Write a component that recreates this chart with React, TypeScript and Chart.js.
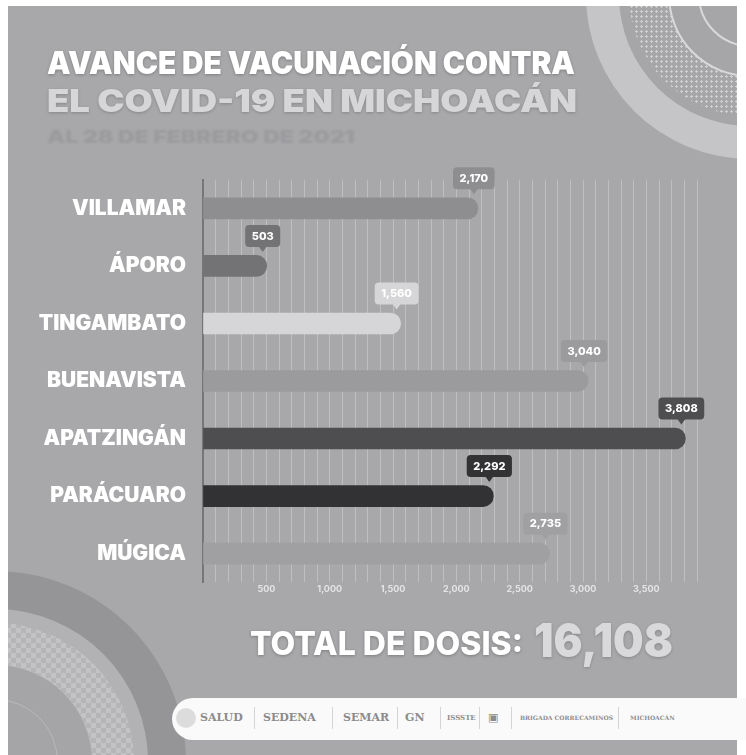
import React, { useEffect, useRef } from "react";
import { Chart, registerables } from "chart.js";

Chart.register(...registerables);

const categories = ["VILLAMAR", "ÁPORO", "TINGAMBATO", "BUENAVISTA", "APATZINGÁN", "PARÁCUARO", "MÚGICA"];
const doses = [2170, 503, 1560, 3040, 3808, 2292, 2735];
const barColors = ["#8e8e91", "#737376", "#d6d6d8", "#9b9b9e", "#4e4e50", "#323234", "#a0a0a3"];
const xMax = 3900;
const gridStep = 100;
const labelStep = 500;
const titleLine1 = "AVANCE DE VACUNACIÓN CONTRA";
const titleLine2 = "EL COVID-19 EN MICHOACÁN";
const titleLine3 = "AL 28 DE FEBRERO DE 2021";
const totalLabel = "TOTAL DE DOSIS:";
const totalValue = "16,108";
const logos = ["SALUD", "SEDENA", "SEMAR", "GN", "ISSSTE", "▣", "BRIGADA CORRECAMINOS", "MICHOACÁN"];

const BG = "#a8a8ab";
const FONT = "Inter, 'Open Sans', 'DejaVu Sans', sans-serif";

const valueLabels = {
  id: "valueLabels",
  afterDatasetsDraw(chart: any) {
    const ctx = chart.ctx;
    const meta = chart.getDatasetMeta(0);
    ctx.save();
    ctx.font = `800 11px ${FONT}`;
    ctx.textAlign = "center";
    ctx.textBaseline = "middle";
    meta.data.forEach((el: any, i: number) => {
      const v = doses[i];
      const txt = v.toLocaleString("en-US");
      const w = ctx.measureText(txt).width + 13;
      const h = 22;
      const cx = el.x - 4;
      const bottom = el.y - 19;
      const top = bottom - h;
      ctx.fillStyle = barColors[i];
      ctx.beginPath();
      (ctx as any).roundRect(cx - w / 2, top, w, h, 4);
      ctx.fill();
      ctx.beginPath();
      ctx.moveTo(cx - 4, bottom - 0.5);
      ctx.lineTo(cx + 4, bottom - 0.5);
      ctx.lineTo(cx, bottom + 5);
      ctx.closePath();
      ctx.fill();
      ctx.fillStyle = "#ffffff";
      ctx.fillText(txt, cx, top + h / 2 + 0.5);
    });
    ctx.restore();
  },
};

function ChartCanvas() {
  const ref = useRef<HTMLCanvasElement | null>(null);
  useEffect(() => {
    if (!ref.current) return;
    const chart = new Chart(ref.current, {
      type: "bar",
      data: {
        labels: categories,
        datasets: [
          {
            data: doses,
            backgroundColor: barColors,
            borderRadius: 11,
            borderSkipped: "start",
            barThickness: 21,
          },
        ],
      },
      options: {
        indexAxis: "y",
        animation: false,
        responsive: false,
        maintainAspectRatio: false,
        layout: { padding: { top: 18.5, right: 49, bottom: 0, left: 0 } },
        plugins: { legend: { display: false }, tooltip: { enabled: false } },
        scales: {
          x: {
            min: 0,
            max: xMax,
            border: { display: false },
            grid: { color: "#bfbfc2", lineWidth: 1, drawTicks: false },
            ticks: {
              stepSize: gridStep,
              autoSkip: false,
              maxRotation: 0,
              padding: 1,
              color: "#e4e4e6",
              font: { family: FONT, size: 9, weight: "bold" },
              callback: (v: any) => (v > 0 && v % labelStep === 0 ? Number(v).toLocaleString("en-US") : ""),
            },
            afterFit: (s: any) => {
              s.height = 22;
            },
          },
          y: {
            border: { display: true, color: "#76767a", width: 2 },
            grid: { display: false, drawTicks: false },
            ticks: {
              color: "#ffffff",
              padding: 17,
              font: { family: FONT, size: 21, weight: "900" },
            },
            afterFit: (s: any) => {
              s.width = 203;
            },
          },
        },
      },
      plugins: [valueLabels],
    });
    return () => chart.destroy();
  }, []);
  return (
    <canvas
      ref={ref}
      width={746}
      height={462}
      style={{ position: "absolute", left: 0, top: 150, width: 746, height: 462 }}
    />
  );
}

function Circle(props: { cx: number; cy: number; r: number; style?: React.CSSProperties }) {
  const { cx, cy, r, style } = props;
  return (
    <div
      style={{
        position: "absolute",
        left: cx - r,
        top: cy - r,
        width: 2 * r,
        height: 2 * r,
        borderRadius: "50%",
        boxSizing: "border-box",
        ...style,
      }}
    />
  );
}

export default function App() {
  const px = 8;
  const py = 6;
  const tr = { x: 750 - px, y: -5 - py };
  const bl = { x: -5 - px, y: 762 - py };
  const logoPos = [200, 263, 343, 405, 447, 488, 520, 630];
  const sepPos = [254, 332, 397, 440, 479, 511, 618];
  return (
    <div style={{ position: "absolute", left: 0, top: 0, width: 746, height: 755, background: "#ffffff", overflow: "hidden" }}>
      <div style={{ position: "absolute", left: px, top: py, width: 729, height: 755 - py, background: BG, overflow: "hidden" }}>
        <Circle cx={tr.x} cy={tr.y} r={164} style={{ background: "#c5c5c7" }} />
        <Circle cx={tr.x} cy={tr.y} r={131} style={{ background: "#a6a6a9" }} />
        <Circle
          cx={tr.x}
          cy={tr.y}
          r={121}
          style={{
            backgroundColor: "#a6a6a9",
            backgroundImage: "radial-gradient(circle, #cfcfd1 1px, transparent 1.4px)",
            backgroundSize: "5px 5px",
          }}
        />
        <Circle cx={tr.x} cy={tr.y} r={82} style={{ background: "#a6a6a9", border: "2px solid #d9d9db" }} />
        <Circle cx={tr.x} cy={tr.y} r={52} style={{ border: "2px solid #d9d9db" }} />
        <Circle cx={bl.x} cy={bl.y} r={191} style={{ background: "#959598" }} />
        <Circle cx={bl.x} cy={bl.y} r={153} style={{ background: "#b2b2b4" }} />
        <Circle
          cx={bl.x}
          cy={bl.y}
          r={139}
          style={{
            backgroundColor: "#b7b7b9",
            backgroundImage: "repeating-conic-gradient(#c3c3c5 0 25%, #b5b5b7 0 50%)",
            backgroundSize: "10px 10px",
          }}
        />
        <Circle cx={bl.x} cy={bl.y} r={98} style={{ background: "#a5a5a8", border: "1.5px solid #bbbbbd" }} />
        <Circle cx={bl.x} cy={bl.y} r={63} style={{ border: "1.5px solid #b9b9bb" }} />
      </div>

      <svg width={746} height={150} style={{ position: "absolute", left: 0, top: 0 }}>
        <text
          x={47}
          y={74}
          textLength={528}
          lengthAdjust="spacingAndGlyphs"
          style={{ font: `900 31px ${FONT}`, fill: "#ffffff", filter: "drop-shadow(0 1px 1.5px rgba(0,0,0,0.25))" }}
        >
          {titleLine1}
        </text>
        <text
          x={47}
          y={112}
          textLength={530}
          lengthAdjust="spacingAndGlyphs"
          style={{ font: `900 31px ${FONT}`, fill: "#d6d6d8", filter: "drop-shadow(0 1px 1.5px rgba(0,0,0,0.2))" }}
        >
          {titleLine2}
        </text>
        <text
          x={47}
          y={143}
          textLength={308}
          lengthAdjust="spacingAndGlyphs"
          style={{ font: `900 17px ${FONT}`, fill: "#9b9b9e", filter: "blur(1.3px)" }}
        >
          {titleLine3}
        </text>
      </svg>

      <ChartCanvas />

      <svg width={746} height={80} style={{ position: "absolute", left: 0, top: 600 }}>
        <text
          x={250}
          y={55}
          textLength={273}
          lengthAdjust="spacingAndGlyphs"
          style={{ font: `800 33px ${FONT}`, fill: "#ffffff", filter: "drop-shadow(0 1px 1.5px rgba(0,0,0,0.25))" }}
        >
          {totalLabel}
        </text>
        <text
          x={534}
          y={57}
          textLength={139}
          lengthAdjust="spacingAndGlyphs"
          style={{ font: `900 47px ${FONT}`, fill: "#d9d9db", filter: "drop-shadow(0 1px 1.5px rgba(0,0,0,0.2))" }}
        >
          {totalValue}
        </text>
      </svg>

      <div
        style={{
          position: "absolute",
          left: 172,
          top: 698,
          width: 600,
          height: 42,
          borderRadius: 21,
          background: "#fafafa",
        }}
      />
      <div style={{ position: "absolute", left: 176, top: 708, width: 20, height: 20, borderRadius: 10, background: "#dcdcdc" }} />
      {logos.map((t, i) => (
        <div
          key={t}
          style={{
            position: "absolute",
            left: logoPos[i],
            top: 711,
            fontFamily: "'DejaVu Serif', 'Liberation Serif', serif",
            fontWeight: "bold",
            fontSize: i >= 6 ? 6 : i === 4 ? 7 : 11,
            color: "#8c8c8e",
            whiteSpace: "nowrap",
            lineHeight: "14px",
          }}
        >
          {t}
        </div>
      ))}
      {sepPos.map((x) => (
        <div key={x} style={{ position: "absolute", left: x, top: 707, width: 1, height: 22, background: "#d4d4d6" }} />
      ))}
    </div>
  );
}
